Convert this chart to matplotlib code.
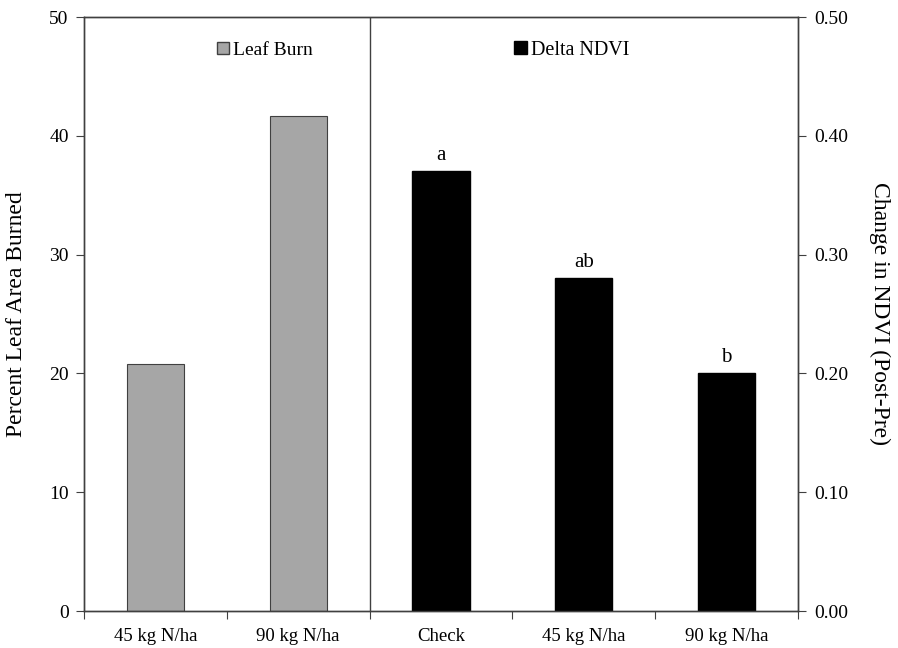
import matplotlib.pyplot as plt
import matplotlib
from matplotlib.patches import Patch
import numpy as np

matplotlib.rcParams['font.family'] = ['Liberation Serif', 'DejaVu Serif']

categories = ['45 kg N/ha', '90 kg N/ha', 'Check', '45 kg N/ha', '90 kg N/ha']
leaf_burn = [20.8, 41.7]          # percent, first two groups
delta_ndvi = [0.37, 0.28, 0.20]   # last three groups
letters = ['a', 'ab', 'b']

fig = plt.figure(figsize=(8.98, 6.48), dpi=100)
ax = fig.add_axes([84/898, 1-611/648, (798-84)/898, (611-17)/648])
ax2 = ax.twinx()

x = np.arange(len(categories))
ax.bar(x[:2], leaf_burn, width=0.4, color='#a6a6a6', edgecolor='#404040', linewidth=0.8, zorder=2)
ax2.bar(x[2:], delta_ndvi, width=0.4, color='black', edgecolor='black', zorder=2)
for xi, v, t in zip(x[2:], delta_ndvi, letters):
    ax2.text(xi, v + 0.005, t, ha='center', va='bottom', fontsize=15)

ax.axvline(1.5, color='#404040', linewidth=1.0)

ax.set_xlim(-0.5, 4.5)
ax.set_ylim(0, 50)
ax2.set_ylim(0, 0.5)
ax.set_yticks(np.arange(0, 51, 10))
ax2.set_yticks(np.arange(0, 0.51, 0.1))
ax2.set_yticklabels(['%.2f' % v for v in np.arange(0, 0.51, 0.1)])

ax.set_xticks(np.arange(-0.5, 5, 1.0))
ax.set_xticklabels([])
ax.set_xticks(x, minor=True)
ax.set_xticklabels(categories, minor=True)
ax.tick_params(axis='x', which='minor', length=0, pad=12, labelsize=13.5)
ax.tick_params(axis='x', which='major', length=6, direction='out', color='#404040')
ax.tick_params(axis='y', length=6, direction='out', labelsize=14, pad=5, color='#404040')
ax2.tick_params(axis='y', length=6, direction='out', labelsize=14, pad=6, color='#404040')

for a in (ax, ax2):
    for s in a.spines.values():
        s.set_color('#404040')
        s.set_linewidth(1.0)

ax.set_ylabel('Percent Leaf Area Burned', fontsize=17, labelpad=16)
ax2.set_ylabel('Change in NDVI (Post-Pre)', fontsize=17, rotation=270, labelpad=30)

ax.legend(handles=[Patch(facecolor='#a6a6a6', edgecolor='#404040', label='Leaf Burn')],
          loc='center', bbox_to_anchor=(0.253, 0.944), frameon=False, fontsize=14,
          handlelength=0.6, handleheight=0.6, handletextpad=0.2)
ax2.legend(handles=[Patch(facecolor='black', edgecolor='black', label='Delta NDVI')],
           loc='center', bbox_to_anchor=(0.683, 0.944), frameon=False, fontsize=14.5,
           handlelength=0.6, handleheight=0.6, handletextpad=0.2)

fig.savefig('out.png', dpi=100)
